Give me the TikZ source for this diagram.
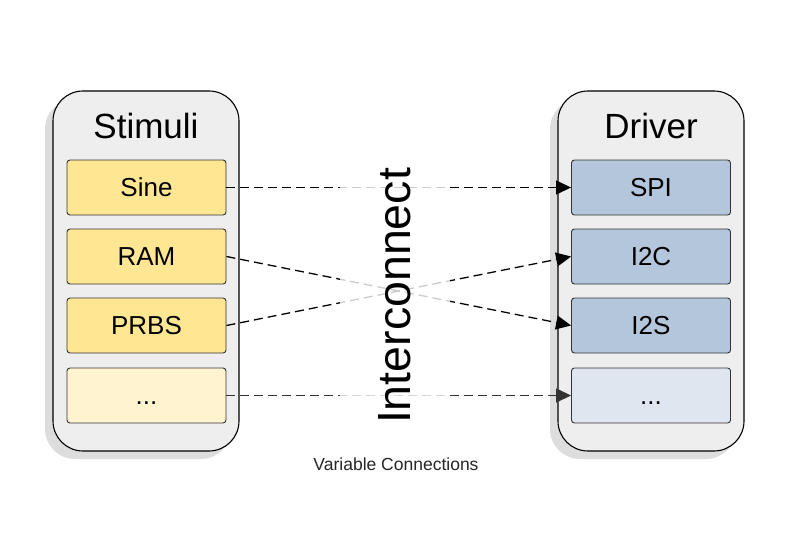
\documentclass[tikz,border=0pt]{standalone}
\usepackage{fontspec}
\setmainfont{Liberation Sans}
\usetikzlibrary{arrows.meta}
\definecolor{contfill}{HTML}{EEEEEE}
\definecolor{shadowc}{HTML}{DDDDDD}
\definecolor{yel}{HTML}{FFE693}
\definecolor{yellight}{HTML}{FFF4CF}
\definecolor{blu}{HTML}{B3C6DC}
\definecolor{blulight}{HTML}{DFE6EF}
\definecolor{boxline}{HTML}{333333}
\tikzset{
  container/.style={draw=black, line width=1.1pt, fill=contfill, rounded corners=30pt,
    minimum width=186pt, minimum height=360pt, inner sep=0pt},
  shadowbox/.style={fill=shadowc, rounded corners=30pt,
    minimum width=186pt, minimum height=360pt, inner sep=0pt},
  title/.style={font=\fontsize{35}{40}\selectfont},
  item/.style={draw=boxline, line width=0.9pt, rounded corners=3pt,
    minimum width=159pt, minimum height=55pt, inner sep=0pt,
    text height=18.7pt, text depth=0pt,
    font=\fontsize{26}{30}\selectfont},
  conn/.style={draw=black, line width=1.3pt, dash pattern=on 9pt off 5pt,
    -{Triangle[length=15pt,width=14pt]}},
}
\begin{document}
\begin{tikzpicture}[x=1pt,y=-1pt]
\fill[white] (0,0) rectangle (794,559);
\useasboundingbox (0,0) rectangle (794,559);
% containers
\node[shadowbox] (stimS) at (138,279) {};
\node[shadowbox] (drvS) at (643,279) {};
\node[container] (stim) at (146,271) {};
\node[container] (drv) at (651,271) {};
\node[title] (stimT) at (146,126) {Stimuli};
\node[title] (drvT) at (651,126) {Driver};
% left items
\node[item, fill=yel] (sine) at (146.5,187.5) {Sine};
\node[item, fill=yel] (ram) at (146.5,256.5) {RAM};
\node[item, fill=yel] (prbs) at (146.5,325.5) {PRBS};
\node[item, fill=yellight] (dotsL) at (146.5,395.5) {...};
% right items
\node[item, fill=blu] (spi) at (651,187.5) {SPI};
\node[item, fill=blu] (i2c) at (651,256.5) {I2C};
\node[item, fill=blu] (i2s) at (651,325.5) {I2S};
\node[item, fill=blulight] (dotsR) at (651,395.5) {...};
% connectors
\draw[conn] (sine.east) -- (spi.west);
\draw[conn] (ram.east) -- (i2s.west);
\draw[conn] (prbs.east) -- (i2c.west);
\draw[conn, draw=black!80] (dotsL.east) -- (dotsR.west);
% interconnect label with fading box
\node[fill=white, fill opacity=0.8, minimum width=110pt, minimum height=300pt, inner sep=0pt] (fade) at (395,296) {};
\node[rotate=90, font=\fontsize{46.5}{50}\selectfont] (ic) at (395,296) {Interconnect};
\node[font=\fontsize{17.5}{20}\selectfont, text=black!85] (vc) at (396,464) {Variable Connections};
\end{tikzpicture}
\end{document}
